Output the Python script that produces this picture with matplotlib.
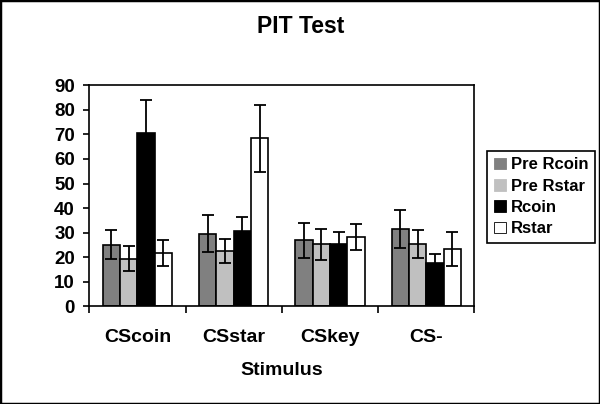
import matplotlib
matplotlib.use("Agg")
import matplotlib.pyplot as plt
import numpy as np
from matplotlib.patches import Patch, Rectangle

categories = ["CScoin", "CSstar", "CSkey", "CS-"]
series_names = ["Pre Rcoin", "Pre Rstar", "Rcoin", "Rstar"]
pre_rcoin = [25.0, 29.6, 26.9, 31.5]
pre_rstar = [19.4, 22.5, 25.2, 25.4]
rcoin = [70.7, 30.7, 25.2, 17.8]
rstar = [21.7, 68.4, 28.3, 23.3]
err_pre_rcoin = [5.9, 7.6, 7.1, 7.6]
err_pre_rstar = [5.0, 5.0, 6.4, 5.7]
err_rcoin = [13.5, 5.8, 4.9, 3.6]
err_rstar = [5.2, 13.7, 5.2, 6.8]
colors = ["#808080", "#c0c0c0", "#000000", "#ffffff"]

plt.rcParams['font.family'] = ['Liberation Sans', 'DejaVu Sans']
plt.rcParams['font.weight'] = 'bold'

fig = plt.figure(figsize=(6.0, 4.04), dpi=100)
ax = fig.add_axes([89.3/600, 1-306.3/404, (474.3-89.3)/600, (306.3-85.3)/404])

values = [pre_rcoin, pre_rstar, rcoin, rstar]
errs = [err_pre_rcoin, err_pre_rstar, err_rcoin, err_rstar]
x = np.arange(len(categories))
w = 0.18
for i, (vals, e, c) in enumerate(zip(values, errs, colors)):
    pos = x + (i - 1.5) * w
    ax.bar(pos, vals, width=w, color=c, edgecolor="black", linewidth=1.2, zorder=2)
    ax.errorbar(pos, vals, yerr=e, fmt="none", ecolor="black", elinewidth=1.3,
                capsize=4.3, capthick=1.3, zorder=3)

ax.set_xlim(-0.5, len(categories) - 0.5)
ax.set_ylim(0, 90)
ax.set_yticks(range(0, 91, 10))
ax.tick_params(axis="y", direction="out", length=4.3, width=1.2, labelsize=13.5, pad=6)
ax.set_xticks(np.arange(-0.5, len(categories), 1.0))
ax.set_xticklabels([])
ax.tick_params(axis="x", which="major", direction="out", length=5, width=1.2)
ax.set_xticks(x, minor=True)
ax.set_xticklabels(categories, minor=True, fontsize=14, fontweight="bold")
ax.tick_params(axis="x", which="minor", length=0, pad=16)
for lab in ax.get_yticklabels():
    lab.set_fontweight("bold")
for s in ax.spines.values():
    s.set_linewidth(1.2)

ax.set_xlabel("Stimulus", fontsize=14, fontweight="bold", labelpad=12)
fig.text(301/600, 1-26.7/404, "PIT Test", ha="center", va="center",
         fontsize=16.5, fontweight="bold")

handles = [Patch(facecolor=c, edgecolor="black" if c == "#ffffff" else c, linewidth=0.6)
           for c in colors]
leg = fig.legend(handles, series_names, loc="upper left",
                 bbox_to_anchor=(487.3/600, 1-150.7/404), bbox_transform=fig.transFigure,
                 borderaxespad=0, fancybox=False, edgecolor="black",
                 prop={"size": 12, "weight": "bold"}, handlelength=0.7, handleheight=0.7,
                 handletextpad=0.3, labelspacing=0.38, borderpad=0.4, framealpha=1)
leg.get_frame().set_linewidth(1.2)

fig.patches.append(Rectangle((0, 0), 1, 1, transform=fig.transFigure, fill=False,
                             edgecolor="black", linewidth=2.5))

fig.savefig("out.png", dpi=100)
